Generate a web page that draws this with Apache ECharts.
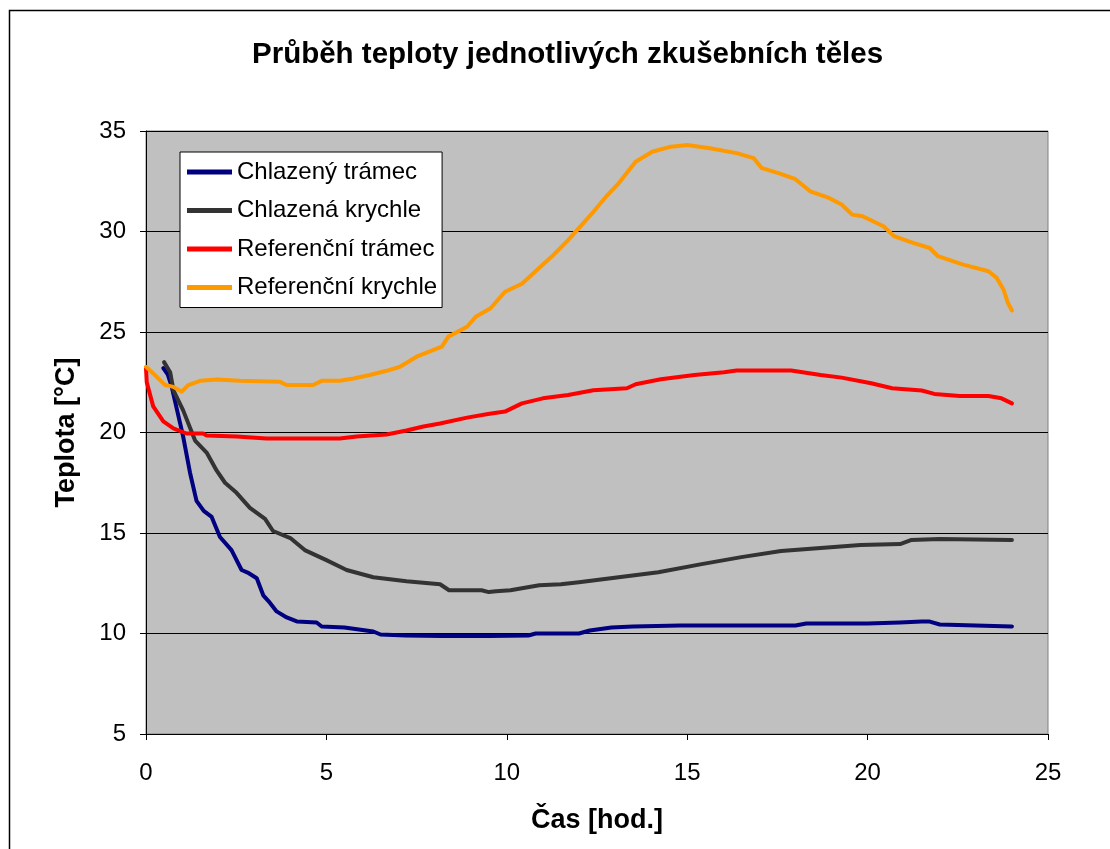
<!DOCTYPE html>
<html>
<head>
<meta charset="utf-8">
<script src="https://cdn.jsdelivr.net/npm/echarts@6/dist/echarts.min.js"></script>
<style>
html,body{margin:0;padding:0;background:#fff;}
#c{width:1110px;height:849px;}
</style>
</head>
<body>
<div id="c"></div>
<script>
var seriesNames = ['Chlazený trámec', 'Chlazená krychle', 'Referenční trámec', 'Referenční krychle'];
var xTicks = [0, 5, 10, 15, 20, 25];
var yTicks = [5, 10, 15, 20, 25, 30, 35];

var tBlue = [0.48,0.6,0.71,0.85,1.03,1.22,1.4,1.6,1.82,2.05,2.37,2.65,2.85,3.07,3.25,3.4,3.62,3.9,4.18,4.73,4.87,5.5,6.3,6.5,7.2,8.2,9.5,10.6,10.8,11.5,12.0,12.3,12.9,13.5,14.8,16,18,18.3,20,20.9,21.5,21.7,22.0,23,24.0];
var vBlue = [23.2,22.9,22.3,21.2,19.8,18.0,16.6,16.1,15.8,14.8,14.15,13.16,13.0,12.75,11.9,11.6,11.1,10.8,10.6,10.55,10.35,10.3,10.1,9.95,9.9,9.87,9.87,9.9,10.0,10.0,10.0,10.15,10.3,10.35,10.4,10.4,10.4,10.5,10.5,10.55,10.6,10.6,10.45,10.4,10.35];

var tGrey = [0.5,0.67,0.76,1.03,1.36,1.68,1.96,2.19,2.51,2.88,3.3,3.52,4.0,4.4,5.0,5.56,6.3,7.22,8.15,8.4,9.3,9.5,9.7,10.1,10.9,11.5,12.0,13.1,14.2,15.4,16.5,17.6,18.7,19.8,20.9,21.2,22.0,24.0];
var vGrey = [23.5,23.0,22.1,21.1,19.6,19.0,18.1,17.5,17.0,16.25,15.7,15.1,14.75,14.15,13.65,13.16,12.8,12.6,12.45,12.15,12.15,12.06,12.1,12.15,12.4,12.45,12.55,12.8,13.05,13.45,13.8,14.1,14.25,14.4,14.45,14.65,14.7,14.65];

var tRed = [0,0.02,0.2,0.48,0.76,1.12,1.58,1.68,2.51,3.34,5.37,5.84,6.67,7.22,7.69,8.15,8.9,9.48,9.95,10.42,11.0,11.7,12.4,13.33,13.57,14.27,15.2,16.02,16.37,17.88,18.7,19.28,20.1,20.68,21.5,21.85,22.55,23.35,23.71,24.0];
var vRed = [23.2,22.5,21.3,20.55,20.2,19.95,19.95,19.85,19.8,19.7,19.7,19.8,19.9,20.1,20.3,20.45,20.74,20.92,21.04,21.45,21.7,21.87,22.1,22.2,22.4,22.65,22.86,23.0,23.08,23.08,22.86,22.73,22.45,22.2,22.09,21.92,21.82,21.82,21.7,21.45];

var tOrange = [0,0.2,0.53,0.76,0.99,1.17,1.5,1.96,2.6,3.71,3.9,4.63,4.87,5.37,5.75,6.2,6.67,7.04,7.5,8.2,8.38,8.9,9.14,9.55,9.95,10.42,10.88,11.24,11.7,12.4,12.75,13.1,13.57,14.03,14.5,15.0,15.67,16.37,16.84,17.07,17.53,18.0,18.41,18.93,19.28,19.57,19.86,20.44,20.73,21.26,21.72,21.95,22.65,23.35,23.58,23.77,23.89,24.0];
var vOrange = [23.27,22.94,22.36,22.27,22.03,22.36,22.57,22.64,22.57,22.52,22.36,22.36,22.57,22.57,22.69,22.86,23.07,23.27,23.77,24.27,24.77,25.26,25.76,26.18,27.0,27.4,28.16,28.74,29.57,30.98,31.73,32.4,33.47,33.97,34.2,34.3,34.13,33.9,33.65,33.15,32.9,32.6,32.0,31.67,31.34,30.84,30.76,30.26,29.77,29.43,29.18,28.77,28.35,28.02,27.69,27.1,26.44,26.07];

function pairs(t, v) { return t.map(function (x, i) { return [x, v[i]]; }); }

var colors = ['#000080', '#333333', '#FF0000', '#FF9900'];
var dataSets = [pairs(tBlue, vBlue), pairs(tGrey, vGrey), pairs(tRed, vRed), pairs(tOrange, vOrange)];
var FONT = '"Liberation Sans", Arial, sans-serif';

var chart = echarts.init(document.getElementById('c'), null, { renderer: 'canvas' });
chart.setOption({
  animation: false,
  backgroundColor: '#ffffff',
  graphic: [{
    type: 'rect', z: -10, silent: true,
    shape: { x: 9.5, y: 10.5, width: 1200, height: 900 },
    style: { fill: '#ffffff', stroke: '#000000', lineWidth: 1.5 }
  }],
  title: {
    text: 'Průběh teploty jednotlivých zkušebních těles',
    left: 252, top: 40, padding: 0,
    textStyle: { fontFamily: FONT, fontSize: 29.5, fontWeight: 'bold', color: '#000' }
  },
  legend: {
    orient: 'vertical', left: 180, top: 152,
    padding: [8, 5, 8, 7],
    backgroundColor: '#ffffff', borderColor: '#000000', borderWidth: 1, borderRadius: 0,
    itemWidth: 45, itemHeight: 5, itemGap: 14.5,
    icon: 'rect',
    textStyle: { fontFamily: FONT, fontSize: 24, color: '#000', lineHeight: 24 },
    data: seriesNames
  },
  grid: {
    left: 146, right: 62, top: 131, bottom: 115,
    show: true, backgroundColor: '#C0C0C0', borderColor: '#808080', borderWidth: 1
  },
  xAxis: {
    type: 'value', min: xTicks[0], max: xTicks[xTicks.length - 1], interval: 5,
    name: 'Čas [hod.]', nameLocation: 'middle', nameGap: 73,
    nameTextStyle: { fontFamily: FONT, fontSize: 27, fontWeight: 'bold', color: '#000' },
    axisLine: { show: true, lineStyle: { color: '#000', width: 1 } },
    axisTick: { show: true, inside: false, length: 6, lineStyle: { color: '#000' } },
    axisLabel: { margin: 27, fontFamily: FONT, fontSize: 24, color: '#000' },
    splitLine: { show: false }
  },
  yAxis: {
    type: 'value', min: yTicks[0], max: yTicks[yTicks.length - 1], interval: 5,
    name: 'Teplota [°C]', nameLocation: 'middle', nameGap: 66, nameRotate: 90,
    nameTextStyle: { fontFamily: FONT, fontSize: 27, fontWeight: 'bold', color: '#000' },
    axisLine: { show: true, lineStyle: { color: '#000', width: 1 } },
    axisTick: { show: true, inside: false, length: 6, lineStyle: { color: '#000' } },
    axisLabel: { margin: 20, fontFamily: FONT, fontSize: 24, color: '#000' },
    splitLine: { show: true, lineStyle: { color: '#000', width: 1 } }
  },
  series: seriesNames.map(function (n, i) {
    return {
      name: n, type: 'line', data: dataSets[i], showSymbol: false, symbol: 'none',
      smooth: false, color: colors[i],
      lineStyle: { color: colors[i], width: 4, join: 'round', cap: 'round' },
      itemStyle: { color: colors[i] }
    };
  })
});
</script>
</body>
</html>
